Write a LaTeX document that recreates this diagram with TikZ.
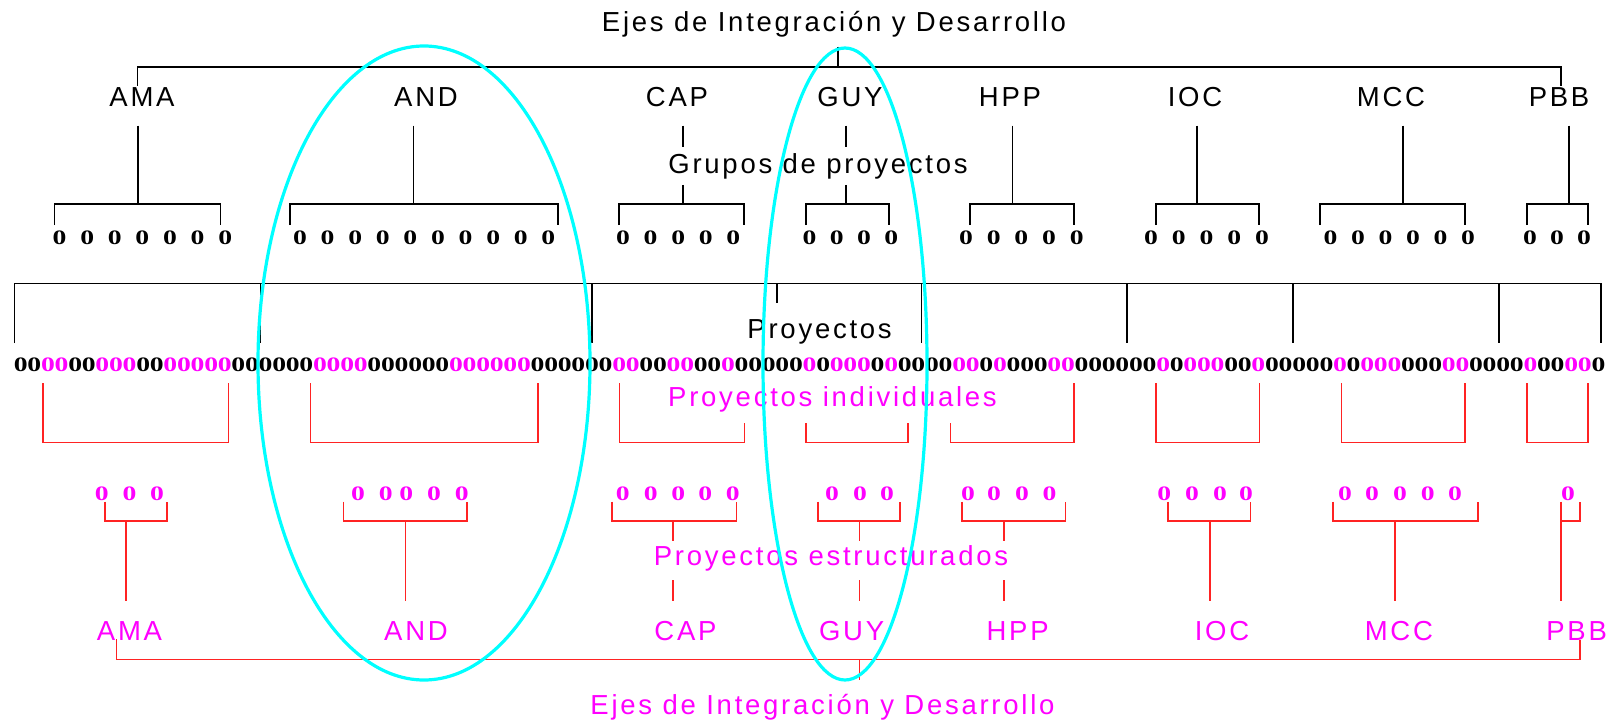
\documentclass[tikz,border=0pt]{standalone}
\usepackage{fontspec}
\usepackage{graphicx}
\setmainfont{Liberation Sans}[LetterSpace=10]
\newfontfamily\cerofont{Liberation Serif}
\usetikzlibrary{positioning}

\definecolor{rosa}{RGB}{255,0,255}
\definecolor{rojo}{RGB}{255,35,35}
\definecolor{cian}{RGB}{0,255,255}
\colorlet{zb}{black}
\colorlet{zm}{rosa}

\newcommand{\cero}{\scalebox{1.35}[1]{0}}

\tikzset{
  etiq/.style={font=\fontsize{27.5}{31}\selectfont, inner sep=0pt, anchor=base},
  cero/.style={font=\cerofont\bfseries\fontsize{20.5}{24}\selectfont, inner sep=0pt, anchor=base},
  arbol/.style={line width=1.4pt, black},
  arbolrojo/.style={line width=1.5pt, rojo},
  ovalo/.style={line width=3.2pt, cian}
}

\begin{document}
\begin{tikzpicture}[x=1pt, y=-1pt]
  \useasboundingbox (0,0) rectangle (1616,722);

  % ejes (arriba)
  \node[etiq] (titulo) at (834,31.7) {Ejes de Integración y Desarrollo};
  \draw[arbol] (838,46.7) -- (838,67);
  \draw[arbol] (137.5,86) -- (137.5,67) -- (1561,67) -- (1561,86);
  \foreach \n/\x in {AMA/142,AND/426,CAP/677,GUY/850,HPP/1010,IOC/1195,MCC/1391,PBB/1559}
    \node[etiq] (arr\n) at (\x,106.7) {\n};

  % grupos de proyectos
  \node[etiq] (grupos) at (818,173.3) {Grupos de proyectos};
  \foreach \sx/\bl/\br in {138/54.3/220.4, 413.6/290/558, 1012.5/970/1074,
                           1197/1156/1259, 1403/1320/1465, 1569/1527/1588}
    \draw[arbol] (\sx,125.7) -- (\sx,204) (\bl,225) -- (\bl,204) -- (\br,204) -- (\br,225);
  \foreach \sx/\bl/\br in {683/619/744, 846/806/889}
    \draw[arbol] (\sx,125.7) -- (\sx,146.7) (\sx,185) -- (\sx,204)
                 (\bl,225) -- (\bl,204) -- (\br,204) -- (\br,225);
  \foreach \n/\x/\d/\k in {AMA/59.6/27.6/7, AND/300/27.6/10, CAP/623/27.6/5, GUY/809.6/27.2/4,
                           HPP/966/27.7/5, IOC/1151/27.75/5, MCC/1330.6/27.5/6, PBB/1530/27/3}
    \foreach \j in {1,...,\k}
      \node[cero] (g\n\j) at ({\x+(\j-1)*\d},244) {\cero};

  % proyectos
  \node[etiq] (proyectos) at (819.6,338.3) {Proyectos};
  \draw[arbol] (14.3,343) -- (14.3,283.3) -- (1601,283.3) -- (1601,343);
  \foreach \x in {260.7,592,921.4,1127,1293,1499}
    \draw[arbol] (\x,283.3) -- (\x,343);
  \draw[arbol] (777,283.3) -- (777,303);
  \foreach \c [count=\i from 0] in {b,b,m,m,b,b,m,m,m,b,b,m,m,m,m,m, b,b,b,b,b,b,
      m,m,m,m,b,b,b,b,b,b,m,m,m,m,m,m, b,b,b,b,b,b, m,m,b,b,m,m,b,b,m, b,b,b,b,b,
      m,b,m,m,m,b,m, b,b,b,b, m,m,b,m,b,b,b,m,m, b,b,b,b,b,b, m,b,m,m,m,b,b,m,
      b,b,b,b,b, m,b,m,m,m,b,b,b,m,m, b,b,b,b, m,b,b,m,m, b}
    \node[cero, text=z\c] (p\i) at ({14+13.6*(\i+0.5)},371.7) {\cero};

  % proyectos individuales
  \node[etiq, text=rosa] (individuales) at (832.5,406.7) {Proyectos individuales};
  \foreach \bl/\br/\tl/\tr in {43/228.6/383.3/383.3, 310.7/538.2/383.3/383.3,
                               619.3/744.3/383.3/423, 806/908/423/423, 950.7/1074/423/383.3,
                               1156/1259.5/383.3/383.3, 1341.5/1465/383.3/383.3, 1527/1588/383.3/383.3}
    \draw[arbolrojo] (\bl,\tl) -- (\bl,442.7) -- (\br,442.7) -- (\br,\tr);

  % proyectos estructurados
  \foreach \x [count=\i] in {101.8,129.6,157, 358,385.7,406.4,434,461.8,
                             622.9,650.7,678.2,705.4,732.9, 832,860,887, 968,994,1022,1049.6,
                             1164.4,1192,1220,1246, 1345,1372,1400,1427.7,1455, 1568}
    \node[cero, text=rosa] (e\i) at (\x,500) {\cero};
  \node[etiq, text=rosa] (estructurados) at (831,565) {Proyectos estructurados};
  \foreach \sx/\bl/\br in {126/105/167, 405.4/343.6/466.8, 1210/1168/1250.6, 1395/1333/1478}
    \draw[arbolrojo] (\bl,501.7) -- (\bl,521) -- (\br,521) -- (\br,501.7) (\sx,521) -- (\sx,601);
  \foreach \sx/\bl/\br in {673.2/611.8/736.4, 859.6/817.9/900, 1004/962/1065.7}
    \draw[arbolrojo] (\bl,501.7) -- (\bl,521) -- (\br,521) -- (\br,501.7)
                     (\sx,521) -- (\sx,541.3) (\sx,580) -- (\sx,601);
  \draw[arbolrojo] (1561,501.7) -- (1561,601) (1561,521) -- (1580,521) -- (1580,501.7);

  % ejes (abajo)
  \foreach \n/\x in {AMA/129.5,AND/416,CAP/685.5,GUY/851.6,HPP/1017.6,IOC/1222,MCC/1398.8,PBB/1576.6}
    \node[etiq, text=rosa] (abj\n) at (\x,640) {\n};
  \draw[arbolrojo] (116.4,639) -- (116.4,659.3) -- (1580,659.3) -- (1580,640);
  \draw[arbolrojo] (859.6,659.3) -- (859.6,680);
  \node[etiq, text=rosa] (tituloabajo) at (822.5,714) {Ejes de Integración y Desarrollo};

  % AND y GUY
  \draw[ovalo] (424,363) ellipse [x radius=166pt, y radius=317pt];
  \draw[ovalo] (845,364) ellipse [x radius=82pt, y radius=316pt];
\end{tikzpicture}
\end{document}
